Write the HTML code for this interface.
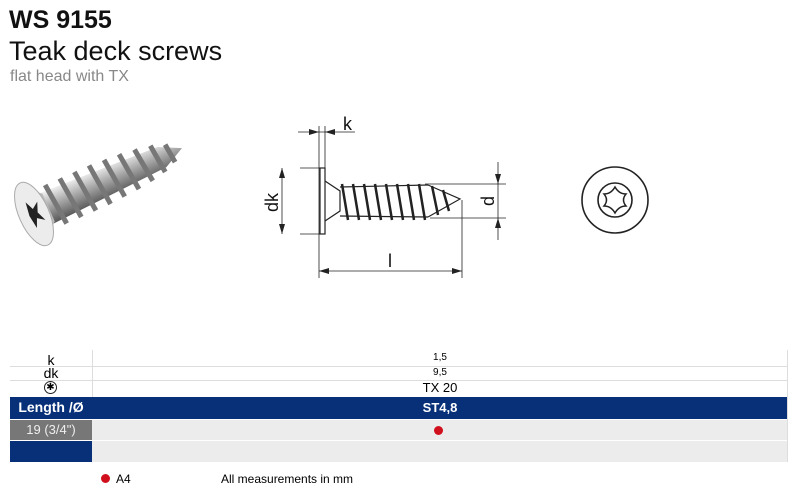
<!DOCTYPE html>
<html><head><meta charset="utf-8"><style>
body{margin:0;width:800px;height:496px;background:#fff;position:relative;overflow:hidden;font-family:"Liberation Sans",sans-serif}
.a{position:absolute;white-space:nowrap}
</style></head><body>
<div class="a" style="left:9px;top:6px;font-size:25px;font-weight:bold;color:#111">WS 9155</div>
<div class="a" style="left:9px;top:36px;font-size:27px;color:#111">Teak deck screws</div>
<div class="a" style="left:10px;top:68px;font-size:16px;color:#888">flat head with TX</div>

<svg class="a" style="left:0;top:0" width="800" height="340" viewBox="0 0 800 340">
<defs><linearGradient id="m" x1="0" y1="0" x2="0" y2="1"><stop offset="0" stop-color="#f4f4f4"/><stop offset="0.45" stop-color="#aaa"/><stop offset="1" stop-color="#555"/></linearGradient></defs>
<!-- photo screw -->
<g transform="translate(34,214) rotate(-24)">
<polygon points="8,-17 140,-11 162,0 140,11 8,17" fill="url(#m)"/>
<g stroke="#777" stroke-width="5">
<line x1="22" y1="-22" x2="26" y2="22"/><line x1="38" y1="-22" x2="42" y2="22"/><line x1="54" y1="-22" x2="58" y2="22"/><line x1="70" y1="-22" x2="74" y2="22"/><line x1="86" y1="-21" x2="90" y2="21"/><line x1="102" y1="-20" x2="106" y2="20"/><line x1="118" y1="-18" x2="122" y2="18"/><line x1="134" y1="-15" x2="137" y2="15"/><line x1="148" y1="-10" x2="150" y2="10"/></g>
<polygon points="0,-30 16,-15 16,15 0,30" fill="#bbb"/>
<ellipse cx="0" cy="0" rx="15" ry="34" fill="#ececec" stroke="#aaa"/>
<path d="M-3,-14 L1,-5 L8,-10 L4,0 L8,10 L1,5 L-3,14 L-5,0Z" fill="#222"/>
</g>
<!-- technical drawing -->
<g stroke="#222" fill="none" stroke-width="1.2">
<rect x="320" y="168" width="5" height="66"/>
<polyline points="325,181 340,191 340,211 325,221"/>
<line x1="340" y1="187" x2="428" y2="185"/><line x1="340" y1="216" x2="428" y2="217"/>
<polyline points="428,185 460,199 428,217"/>
<g stroke-width="2.5">
<path d="M342,184 L348,220 M353,184 L359,220 M364,184 L370,220 M375,184 L381,220 M386,184 L392,220 M397,184 L403,220 M408,184 L414,220 M419,184 L425,220 M432,186 L438,215 M443,190 L449,211"/></g>
<line x1="300" y1="168" x2="320" y2="168" stroke-width="0.8"/><line x1="300" y1="234" x2="320" y2="234" stroke-width="0.8"/>
<line x1="282" y1="168" x2="282" y2="234" stroke-width="0.8"/>
<line x1="319" y1="126" x2="319" y2="278" stroke-width="0.8"/><line x1="325" y1="126" x2="325" y2="168" stroke-width="0.8"/>
<line x1="298" y1="132" x2="355" y2="132" stroke-width="0.8"/>
<line x1="462" y1="200" x2="462" y2="278" stroke-width="0.8"/>
<line x1="319" y1="271" x2="462" y2="271" stroke-width="0.8"/>
<line x1="425" y1="184" x2="506" y2="184" stroke-width="0.8"/><line x1="430" y1="218" x2="506" y2="218" stroke-width="0.8"/>
<line x1="498" y1="162" x2="498" y2="240" stroke-width="0.8"/>
</g>
<g fill="#222">
<polygon points="282,168 279,178 285,178"/><polygon points="282,234 279,224 285,224"/>
<polygon points="319,132 309,129 309,135"/><polygon points="325,132 335,129 335,135"/>
<polygon points="319,271 329,268 329,274"/><polygon points="462,271 452,268 452,274"/>
<polygon points="498,184 495,174 501,174"/><polygon points="498,218 495,228 501,228"/>
</g>
<g font-family="Liberation Sans,sans-serif" font-size="18" fill="#111">
<text x="343" y="130">k</text>
<text x="388" y="267">l</text>
<text transform="translate(278,212) rotate(-90)">dk</text>
<text transform="translate(494,206) rotate(-90)">d</text>
</g>
<!-- head view -->
<circle cx="615" cy="200" r="33" fill="none" stroke="#222" stroke-width="1.6"/>
<circle cx="615" cy="200" r="17" fill="none" stroke="#222" stroke-width="1.6"/>
<path d="M615,187 Q619,194 626,194 Q621,200 626,206 Q619,206 615,213 Q611,206 604,206 Q609,200 604,194 Q611,194 615,187Z" fill="none" stroke="#222" stroke-width="1.5"/>
</svg>

<!-- table -->
<div class="a" style="left:92px;top:350px;width:1px;height:47px;background:#ddd"></div>
<div class="a" style="left:787px;top:350px;width:1px;height:112px;background:#ddd"></div>
<div class="a" style="left:10px;top:366px;width:777px;height:1px;background:#ddd"></div>
<div class="a" style="left:10px;top:380px;width:777px;height:1px;background:#ddd"></div>
<div class="a" style="left:10px;top:352px;width:82px;text-align:center;font-size:14px">k</div>
<div class="a" style="left:10px;top:365px;width:82px;text-align:center;font-size:14px">dk</div>
<div class="a" style="left:44px;top:381px;width:11px;height:11px;border:1px solid #222;border-radius:50%;text-align:center;font-size:10px;line-height:11px">✱</div>
<div class="a" style="left:93px;top:352px;width:694px;text-align:center;font-size:10px">1,5</div>
<div class="a" style="left:93px;top:367px;width:694px;text-align:center;font-size:10px">9,5</div>
<div class="a" style="left:93px;top:380px;width:694px;text-align:center;font-size:13px">TX 20</div>
<div class="a" style="left:10px;top:397px;width:777px;height:22px;background:#073078"></div>
<div class="a" style="left:10px;top:399px;width:82px;text-align:center;font-size:14px;font-weight:bold;color:#fff">Length /Ø</div>
<div class="a" style="left:93px;top:400px;width:694px;text-align:center;font-size:13px;font-weight:bold;color:#fff">ST4,8</div>
<div class="a" style="left:92px;top:420px;width:695px;height:20px;background:#ececec"></div>
<div class="a" style="left:92px;top:441px;width:695px;height:21px;background:#ececec"></div>
<div class="a" style="left:10px;top:420px;width:82px;height:20px;background:#777;color:#eee;font-size:13px;text-align:center;line-height:20px">19 (3/4")</div>
<div class="a" style="left:10px;top:441px;width:82px;height:21px;background:#073078"></div>
<div class="a" style="left:434px;top:426px;width:9px;height:9px;border-radius:50%;background:#d0101c"></div>
<div class="a" style="left:101px;top:474px;width:9px;height:9px;border-radius:50%;background:#d0101c"></div>
<div class="a" style="left:116px;top:472px;font-size:12px">A4</div>
<div class="a" style="left:221px;top:472px;font-size:12px">All measurements in mm</div>
</body></html>
